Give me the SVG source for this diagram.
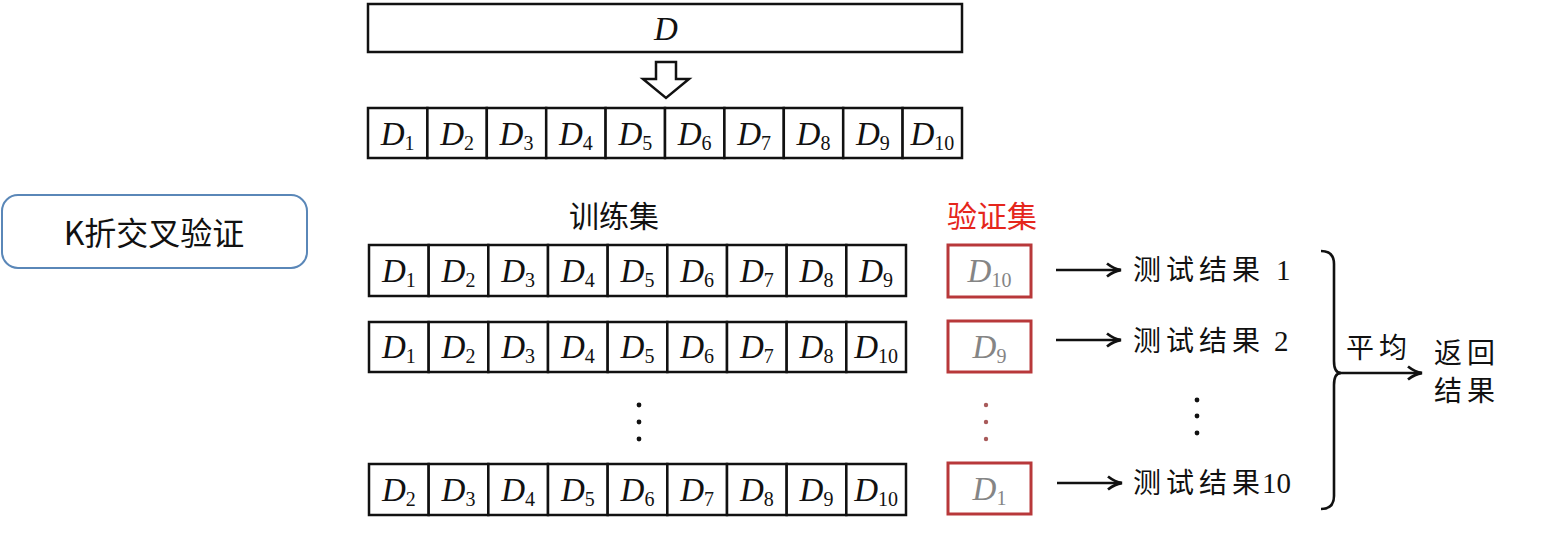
<svg xmlns="http://www.w3.org/2000/svg" width="1547" height="544" viewBox="0 0 1547 544">
<style>
.cell{fill:#fff;stroke:#111;stroke-width:2.5}
.red{fill:#fff;stroke:#b8383a;stroke-width:3}
.m{font-family:"Liberation Serif",serif;font-style:italic;font-size:33px;fill:#111;text-anchor:middle}
.s{font-style:normal;font-size:20px}
.g{fill:#858585}
.cn{font-family:"Noto Sans CJK SC",sans-serif;font-size:28px;fill:#111;letter-spacing:5px}
.num{font-family:"Liberation Serif",serif;font-size:29px;fill:#111}
.ar{stroke:#111;stroke-width:2.6;fill:none}
.hd{font-family:"Noto Sans CJK SC",sans-serif;font-size:30px;text-anchor:middle}
</style>
<defs>
<marker id="ah" markerWidth="18" markerHeight="16" refX="15" refY="8" orient="auto" markerUnits="userSpaceOnUse">
<path d="M2,1.5 Q9,7 16,8 Q9,9 2,14.5" fill="none" stroke="#111" stroke-width="2.8"/>
</marker>
</defs>
<rect width="1547" height="544" fill="#fff"/>

<g id="kfold-title">
<rect x="2" y="195" width="305" height="73" rx="16" fill="#fff" stroke="#5a87b8" stroke-width="2"/>
<text x="154" y="245" font-family="Noto Sans CJK SC,sans-serif" font-size="32" fill="#111" text-anchor="middle">K折交叉验证</text>
</g>

<g id="dataset-D">
<rect class="cell" x="368" y="4" width="594" height="48"/>
<text class="m" x="666" y="40">D</text>
</g>

<g id="split-arrow">
<polygon points="656,62 676,62 676,79 689,79 666,98 643,79 656,79" fill="#fff" stroke="#111" stroke-width="2.5" stroke-linejoin="miter"/>
</g>

<g id="partition-row">
<g id="p1"><rect class="cell" x="368" y="108" width="59.4" height="50"/><text class="m" x="397.7" y="145">D<tspan class="s" dy="5">1</tspan></text></g>
<g id="p2"><rect class="cell" x="427.4" y="108" width="59.4" height="50"/><text class="m" x="457.1" y="145">D<tspan class="s" dy="5">2</tspan></text></g>
<g id="p3"><rect class="cell" x="486.8" y="108" width="59.4" height="50"/><text class="m" x="516.5" y="145">D<tspan class="s" dy="5">3</tspan></text></g>
<g id="p4"><rect class="cell" x="546.2" y="108" width="59.4" height="50"/><text class="m" x="575.9" y="145">D<tspan class="s" dy="5">4</tspan></text></g>
<g id="p5"><rect class="cell" x="605.6" y="108" width="59.4" height="50"/><text class="m" x="635.3" y="145">D<tspan class="s" dy="5">5</tspan></text></g>
<g id="p6"><rect class="cell" x="665" y="108" width="59.4" height="50"/><text class="m" x="694.7" y="145">D<tspan class="s" dy="5">6</tspan></text></g>
<g id="p7"><rect class="cell" x="724.4" y="108" width="59.4" height="50"/><text class="m" x="754.1" y="145">D<tspan class="s" dy="5">7</tspan></text></g>
<g id="p8"><rect class="cell" x="783.8" y="108" width="59.4" height="50"/><text class="m" x="813.5" y="145">D<tspan class="s" dy="5">8</tspan></text></g>
<g id="p9"><rect class="cell" x="843.2" y="108" width="59.4" height="50"/><text class="m" x="872.9" y="145">D<tspan class="s" dy="5">9</tspan></text></g>
<g id="p10"><rect class="cell" x="902.6" y="108" width="59.4" height="50"/><text class="m" x="932.3" y="145">D<tspan class="s" dy="5">10</tspan></text></g>
</g>

<g id="train-label"><text class="hd" x="614" y="227" fill="#111">训练集</text></g>
<g id="val-label"><text class="hd" x="992" y="227" fill="#e5261c">验证集</text></g>

<g id="fold1">
<rect class="cell" x="369" y="245" width="59.67" height="51"/><text class="m" x="398.8" y="282">D<tspan class="s" dy="5">1</tspan></text>
<rect class="cell" x="428.67" y="245" width="59.67" height="51"/><text class="m" x="458.5" y="282">D<tspan class="s" dy="5">2</tspan></text>
<rect class="cell" x="488.33" y="245" width="59.67" height="51"/><text class="m" x="518.2" y="282">D<tspan class="s" dy="5">3</tspan></text>
<rect class="cell" x="548" y="245" width="59.67" height="51"/><text class="m" x="577.8" y="282">D<tspan class="s" dy="5">4</tspan></text>
<rect class="cell" x="607.67" y="245" width="59.67" height="51"/><text class="m" x="637.5" y="282">D<tspan class="s" dy="5">5</tspan></text>
<rect class="cell" x="667.33" y="245" width="59.67" height="51"/><text class="m" x="697.2" y="282">D<tspan class="s" dy="5">6</tspan></text>
<rect class="cell" x="727" y="245" width="59.67" height="51"/><text class="m" x="756.8" y="282">D<tspan class="s" dy="5">7</tspan></text>
<rect class="cell" x="786.67" y="245" width="59.67" height="51"/><text class="m" x="816.5" y="282">D<tspan class="s" dy="5">8</tspan></text>
<rect class="cell" x="846.33" y="245" width="59.67" height="51"/><text class="m" x="876.2" y="282">D<tspan class="s" dy="5">9</tspan></text>
</g>
<g id="val1"><rect class="red" x="948" y="245" width="83" height="52"/><text class="m g" x="989.5" y="282">D<tspan class="s" dy="5">10</tspan></text></g>
<g id="result1"><text class="cn" x="1133" y="280">测试结果</text><text class="num" x="1276" y="280">1</text></g>

<g id="fold2">
<rect class="cell" x="369" y="322" width="59.67" height="50"/><text class="m" x="398.8" y="358">D<tspan class="s" dy="5">1</tspan></text>
<rect class="cell" x="428.67" y="322" width="59.67" height="50"/><text class="m" x="458.5" y="358">D<tspan class="s" dy="5">2</tspan></text>
<rect class="cell" x="488.33" y="322" width="59.67" height="50"/><text class="m" x="518.2" y="358">D<tspan class="s" dy="5">3</tspan></text>
<rect class="cell" x="548" y="322" width="59.67" height="50"/><text class="m" x="577.8" y="358">D<tspan class="s" dy="5">4</tspan></text>
<rect class="cell" x="607.67" y="322" width="59.67" height="50"/><text class="m" x="637.5" y="358">D<tspan class="s" dy="5">5</tspan></text>
<rect class="cell" x="667.33" y="322" width="59.67" height="50"/><text class="m" x="697.2" y="358">D<tspan class="s" dy="5">6</tspan></text>
<rect class="cell" x="727" y="322" width="59.67" height="50"/><text class="m" x="756.8" y="358">D<tspan class="s" dy="5">7</tspan></text>
<rect class="cell" x="786.67" y="322" width="59.67" height="50"/><text class="m" x="816.5" y="358">D<tspan class="s" dy="5">8</tspan></text>
<rect class="cell" x="846.33" y="322" width="59.67" height="50"/><text class="m" x="876.2" y="358">D<tspan class="s" dy="5">10</tspan></text>
</g>
<g id="val2"><rect class="red" x="948" y="321" width="83" height="51"/><text class="m g" x="989.5" y="358">D<tspan class="s" dy="5">9</tspan></text></g>
<g id="result2"><text class="cn" x="1133" y="351">测试结果</text><text class="num" x="1274" y="351">2</text></g>

<g id="ellipsis">
<circle cx="639" cy="405" r="2.4" fill="#111"/><circle cx="639" cy="422" r="2.4" fill="#111"/><circle cx="639" cy="439" r="2.4" fill="#111"/>
<circle cx="986" cy="405" r="2.2" fill="#a85a5a"/><circle cx="986" cy="422" r="2.2" fill="#a85a5a"/><circle cx="986" cy="439" r="2.2" fill="#a85a5a"/>
<circle cx="1197" cy="400" r="2.4" fill="#111"/><circle cx="1197" cy="416" r="2.4" fill="#111"/><circle cx="1197" cy="433" r="2.4" fill="#111"/>
</g>

<g id="fold10">
<rect class="cell" x="369" y="464" width="59.67" height="51"/><text class="m" x="398.8" y="501">D<tspan class="s" dy="5">2</tspan></text>
<rect class="cell" x="428.67" y="464" width="59.67" height="51"/><text class="m" x="458.5" y="501">D<tspan class="s" dy="5">3</tspan></text>
<rect class="cell" x="488.33" y="464" width="59.67" height="51"/><text class="m" x="518.2" y="501">D<tspan class="s" dy="5">4</tspan></text>
<rect class="cell" x="548" y="464" width="59.67" height="51"/><text class="m" x="577.8" y="501">D<tspan class="s" dy="5">5</tspan></text>
<rect class="cell" x="607.67" y="464" width="59.67" height="51"/><text class="m" x="637.5" y="501">D<tspan class="s" dy="5">6</tspan></text>
<rect class="cell" x="667.33" y="464" width="59.67" height="51"/><text class="m" x="697.2" y="501">D<tspan class="s" dy="5">7</tspan></text>
<rect class="cell" x="727" y="464" width="59.67" height="51"/><text class="m" x="756.8" y="501">D<tspan class="s" dy="5">8</tspan></text>
<rect class="cell" x="786.67" y="464" width="59.67" height="51"/><text class="m" x="816.5" y="501">D<tspan class="s" dy="5">9</tspan></text>
<rect class="cell" x="846.33" y="464" width="59.67" height="51"/><text class="m" x="876.2" y="501">D<tspan class="s" dy="5">10</tspan></text>
</g>
<g id="val10"><rect class="red" x="948" y="463" width="83" height="51"/><text class="m g" x="989.5" y="500">D<tspan class="s" dy="5">1</tspan></text></g>
<g id="result10"><text class="cn" x="1133" y="493">测试结果</text><text class="num" x="1262" y="493">10</text></g>

<g id="average-label"><text class="cn" x="1346" y="358">平均</text></g>
<g id="return-result"><text class="cn" x="1434" y="363">返回</text><text class="cn" x="1434" y="401">结果</text></g>

<g id="connectors">
<line class="ar" x1="1056" y1="270" x2="1120" y2="270" marker-end="url(#ah)"/>
<line class="ar" x1="1056" y1="340" x2="1120" y2="340" marker-end="url(#ah)"/>
<line class="ar" x1="1057" y1="483" x2="1121" y2="483" marker-end="url(#ah)"/>
<path class="ar" stroke-width="3" d="M1321,251 Q1334,251 1334,264 L1334,361 Q1334,373 1341,373 Q1334,373 1334,385 L1334,496 Q1334,509 1321,509"/>
<line class="ar" x1="1337" y1="373" x2="1421" y2="373" marker-end="url(#ah)"/>
</g>
</svg>
